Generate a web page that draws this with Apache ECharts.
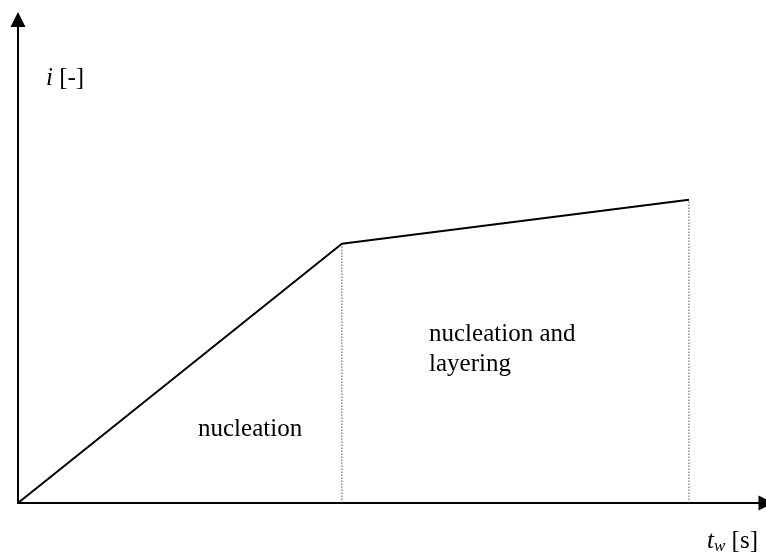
<!DOCTYPE html>
<html>
<head>
<meta charset="utf-8">
<script src="https://cdn.jsdelivr.net/npm/echarts@6/dist/echarts.min.js"></script>
<style>html,body{margin:0;padding:0;background:#fff}#c{width:766px;height:559px}</style>
</head>
<body>
<div id="c"></div>
<script>
// Data (abstract units: time t_w on x, i on y)
var tw = [0, 4.33, 8.97];
var iv = [0, 5.36, 6.27];
var divX = [4.33, 8.97];
var divTop = [5.36, 6.27];
var regionLabels = ['nucleation', 'nucleation and\nlayering'];

var chart = echarts.init(document.getElementById('c'), null, {renderer: 'canvas'});
var F = '"Liberation Serif","Times New Roman",serif';

var dividerSeries = divX.map(function (x, k) {
  return {
    type: 'line', data: [[x, 0], [x, divTop[k]]], symbol: 'none', silent: true,
    lineStyle: {color: '#555', width: 1, type: [1.5, 1.5]}, z: 1
  };
});

chart.setOption({
  animation: false,
  grid: {left: 18, right: 0, top: 19.5, bottom: 56},
  xAxis: {
    type: 'value', min: 0, max: 10,
    axisLine: {show: true, onZero: false, symbol: ['none', 'triangle'], symbolSize: [15, 15],
      lineStyle: {color: '#000', width: 2}},
    axisTick: {show: false}, axisLabel: {show: false}, splitLine: {show: false}
  },
  yAxis: {
    type: 'value', min: 0, max: 10,
    axisLine: {show: true, onZero: false, symbol: ['none', 'triangle'], symbolSize: [15, 15],
      lineStyle: {color: '#000', width: 2}},
    axisTick: {show: false}, axisLabel: {show: false}, splitLine: {show: false}
  },
  series: dividerSeries.concat([{
    type: 'line', data: tw.map(function (t, k) { return [t, iv[k]]; }),
    symbol: 'none', lineStyle: {color: '#000', width: 2}, z: 3
  }]),
  graphic: [
    {type: 'text', x: 46, y: 78, style: {
      text: '{it|i} [-]', font: '25px ' + F, fill: '#000', verticalAlign: 'middle',
      rich: {it: {fontStyle: 'italic', fontFamily: F, fontSize: 25}}}},
    {type: 'text', x: 198, y: 429, style: {text: regionLabels[0], font: '25px ' + F, fill: '#000', verticalAlign: 'middle'}},
    {type: 'text', x: 429, y: 319, style: {text: regionLabels[1], font: '25px ' + F, fill: '#000', lineHeight: 30, verticalAlign: 'top'}},
    {type: 'text', x: 758, y: 541, style: {
      text: '{t|t}{w|w} [s]', font: '25px ' + F, fill: '#000', align: 'right', verticalAlign: 'middle',
      rich: {
        t: {fontStyle: 'italic', fontFamily: F, fontSize: 25},
        w: {fontStyle: 'italic', fontFamily: F, fontSize: 17, padding: [11, 0, 0, 0]}
      }}}
  ]
});
</script>
</body>
</html>
